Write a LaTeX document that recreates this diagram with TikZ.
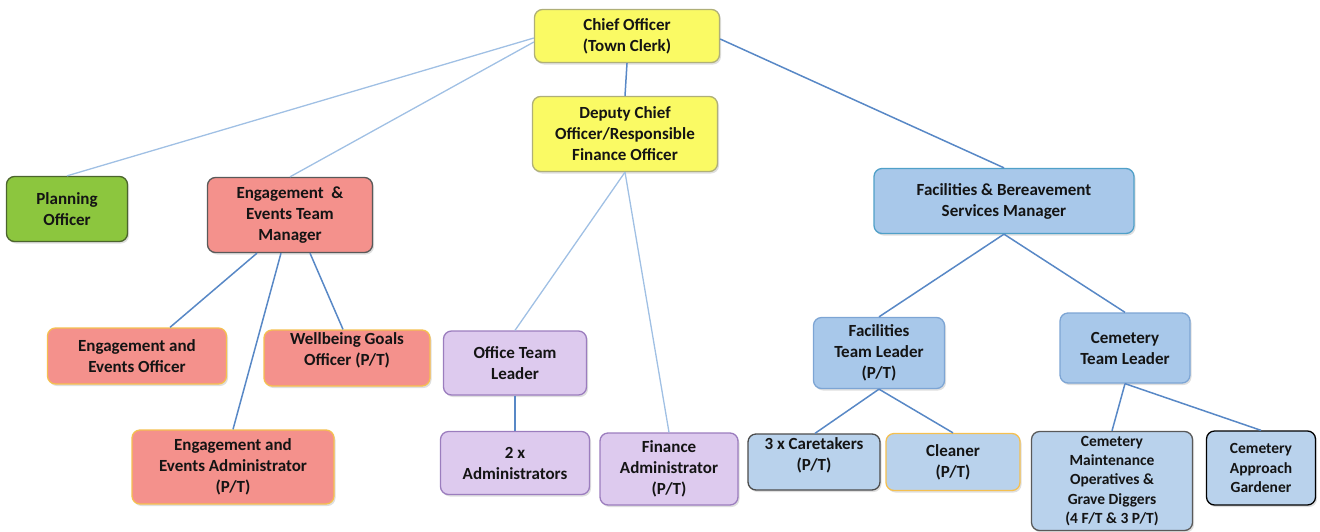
\documentclass[tikz,border=0pt]{standalone}
\usepackage{fontspec}
\setmainfont{Carlito}
\usetikzlibrary{shadows}
\definecolor{yel}{RGB}{250,250,100}
\definecolor{yelb}{RGB}{175,175,120}
\definecolor{grn}{RGB}{140,198,62}
\definecolor{grnb}{RGB}{75,100,45}
\definecolor{sal}{RGB}{244,145,140}
\definecolor{salb}{RGB}{245,192,80}
\definecolor{pur}{RGB}{221,202,238}
\definecolor{purb}{RGB}{155,125,190}
\definecolor{blu}{RGB}{168,200,234}
\definecolor{blub}{RGB}{125,165,212}
\definecolor{blul}{RGB}{185,210,236}
\definecolor{teal}{RGB}{80,160,200}
\definecolor{lnk}{RGB}{88,136,198}
\definecolor{lnkl}{RGB}{160,192,228}
\definecolor{txt}{RGB}{20,20,20}
\tikzset{
  box/.style={draw, rounded corners=8pt, line width=1.3pt, align=center, inner sep=1pt,
    font=\bfseries\fontsize{17}{21}\selectfont, text=txt,
    drop shadow={shadow xshift=1.5pt, shadow yshift=-2pt, opacity=0.25}},
  small/.style={font=\bfseries\fontsize{15.5}{19.3}\selectfont},
  ybox/.style={box, fill=yel, draw=yelb},
  gbox/.style={box, fill=grn, draw=grnb},
  sbox/.style={box, fill=sal, draw=salb},
  pbox/.style={box, fill=pur, draw=purb},
  bbox/.style={box, fill=blu, draw=blub},
  lbox/.style={box, fill=blul},
  link/.style={draw=lnk, line width=1.5pt},
  linkl/.style={draw=lnkl, line width=1.3pt}
}
\begin{document}
\begin{tikzpicture}[x=1pt,y=-1pt]
\useasboundingbox (0,0) rectangle (1320,531);
% nodes
\node[ybox, minimum width=185pt, minimum height=53pt] (chief) at (627,36) {Chief Officer\\(Town Clerk)};
\node[ybox, minimum width=185pt, minimum height=75pt] (dep) at (625,134) {Deputy Chief\\Officer/Responsible\\Finance Officer};
\node[gbox, minimum width=121pt, minimum height=65pt] (plan) at (67,209) {Planning\\Officer};
\node[sbox, draw=black!65, minimum width=165pt, minimum height=75pt] (etm) at (290,215) {Engagement~~\&\\Events Team\\Manager};
\node[sbox, minimum width=179pt, minimum height=56pt] (eeo) at (137,356) {Engagement and\\Events Officer};
\node[sbox, minimum width=166pt, minimum height=56pt] (well) at (347,358) {Wellbeing Goals\\Officer (P/T)\\[-3pt]};
\node[sbox, minimum width=202pt, minimum height=74pt] (eea) at (233,467) {Engagement and\\Events Administrator\\(P/T)};
\node[pbox, minimum width=143pt, minimum height=64pt] (otl) at (515,363) {Office Team\\Leader};
\node[pbox, minimum width=149pt, minimum height=63pt] (adm) at (515,463) {2 x\\Administrators};
\node[pbox, minimum width=138pt, minimum height=72pt] (fin) at (669,469) {Finance\\Administrator\\(P/T)};
\node[bbox, draw=teal, minimum width=260pt, minimum height=65pt] (fbm) at (1004,201) {Facilities \& Bereavement\\Services Manager};
\node[bbox, minimum width=131pt, minimum height=71pt] (ftl) at (879,353) {Facilities\\Team Leader\\(P/T)};
\node[bbox, minimum width=130pt, minimum height=70pt] (ctl) at (1125,348) {Cemetery\\Team Leader};
\node[lbox, draw=black!70, minimum width=132pt, minimum height=56pt] (care) at (814,462) {3 x Caretakers\\(P/T)\\[-6pt]};
\node[lbox, draw=salb, minimum width=134pt, minimum height=57pt] (clean) at (953,462) {Cleaner\\(P/T)};
\node[lbox, small, draw=black!65, minimum width=161pt, minimum height=99pt] (cmo) at (1112,481) {Cemetery\\Maintenance\\Operatives \&\\Grave Diggers\\(4 F/T \& 3 P/T)};
\node[lbox, small, draw=black, minimum width=109pt, minimum height=74pt] (gard) at (1261,468) {Cemetery\\Approach\\Gardener};
% connectors
\draw[linkl] (chief.west) ++(0,2) -- (plan.north);
\draw[linkl] (chief.west) ++(0,6) -- (etm.north);
\draw[link] (chief.south) -- (dep.north);
\draw[link] (chief.east) ++(0,3) -- (fbm.north);
\draw[linkl] (dep.south) -- (otl.north);
\draw[linkl] (dep.south) -- (fin.north);
\draw[link] (etm.south) ++(-33,0) -- (eeo.north -| 170,0);
\draw[link] (etm.south) ++(-9,0) -- (eea.north);
\draw[link] (etm.south) ++(20,0) -- ([xshift=-4pt]well.north);
\draw[link] (otl.south) -- (adm.north);
\draw[link] (fbm.south) -- (ftl.north);
\draw[link] (fbm.south) -- (ctl.north);
\draw[link] (ftl.south) -- ([xshift=1pt]care.north);
\draw[link] (ftl.south) -- (clean.north);
\draw[link] (ctl.south) -- (cmo.north);
\draw[link] (ctl.south) -- (gard.north);
\end{tikzpicture}
\end{document}
